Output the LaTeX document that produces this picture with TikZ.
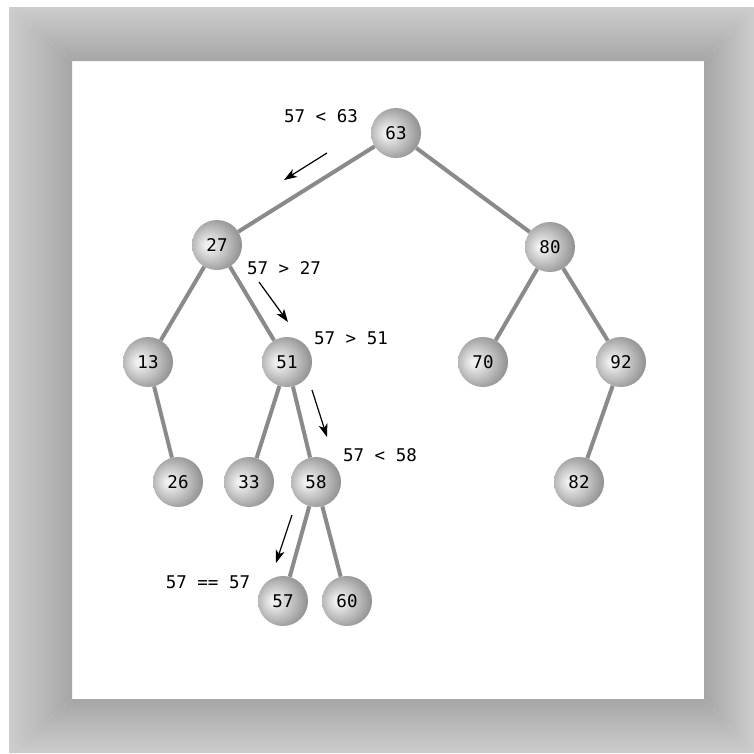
\documentclass[tikz,border=0pt]{standalone}
\usepackage{fontspec}
\setmonofont{DejaVu Sans Mono}
\usetikzlibrary{arrows.meta}

\definecolor{keylight}{HTML}{F0F0F0}
\definecolor{keymid}{HTML}{BEBEBE}
\definecolor{keydark}{HTML}{7A7A7A}
\definecolor{edgegray}{HTML}{8A8A8A}
\definecolor{frameout}{HTML}{CDCDCD}
\definecolor{framein}{HTML}{A6A6A6}
\pgfdeclareradialshading{keyball}{\pgfpoint{-10bp}{0bp}}{color(0bp)=(keylight); color(3bp)=(keylight); color(17bp)=(keymid); color(35bp)=(keydark); color(50bp)=(keydark)}

\begin{document}
\begin{tikzpicture}[x=1pt, y=-1pt]

        % 1. Page size and the bevelled grey frame
        \useasboundingbox (0,0) rectangle (754,753);
        \fill[white] (0,0) rectangle (754,753);

        \coordinate (OTL) at (9,7);    % outer corners
        \coordinate (OTR) at (754,7);
        \coordinate (OBR) at (754,753);
        \coordinate (OBL) at (9,753);
        \coordinate (ITL) at (72,61);  % inner corners
        \coordinate (ITR) at (704,61);
        \coordinate (IBR) at (704,699);
        \coordinate (IBL) at (72,699);

        \shade[top color=frameout, bottom color=framein] (OTL) -- (OTR) -- (ITR) -- (ITL) -- cycle;
        \shade[left color=frameout, right color=framein] (OTL) -- (ITL) -- (IBL) -- (OBL) -- cycle;
        \shade[left color=framein, right color=frameout] (OTR) -- (ITR) -- (IBR) -- (OBR) -- cycle;
        \shade[top color=framein, bottom color=frameout] (OBL) -- (IBL) -- (IBR) -- (OBR) -- cycle;

        % 2. Styles for keys, tree edges and the search notes
        \tikzset{
            key/.style={circle, minimum size=50pt, inner sep=0pt, shading=keyball,
                font=\ttfamily\fontsize{17.5}{19}\selectfont},
            treeedge/.style={line width=4pt, edgegray},
            note/.style={font=\ttfamily\fontsize{17.5}{19}\selectfont, inner sep=0pt},
            searchstep/.style={line width=1.2pt, black, -{Stealth[length=13pt, width=9pt, inset=3.5pt]}}
        }

        % 3. The keys of the tree
        \node[key] (n63) at (396,133) {63};
        \node[key] (n27) at (217,245) {27};
        \node[key] (n80) at (550,247) {80};
        \node[key] (n13) at (148,362) {13};
        \node[key] (n51) at (287,362) {51};
        \node[key] (n70) at (483,362) {70};
        \node[key] (n92) at (621,362) {92};
        \node[key] (n26) at (178,482) {26};
        \node[key] (n33) at (249,482) {33};
        \node[key] (n58) at (316,482) {58};
        \node[key] (n82) at (579,482) {82};
        \node[key] (n57) at (283,601) {57};
        \node[key] (n60) at (347,601) {60};

        % 4. Edges between parent and child
        \draw[treeedge] (n63) -- (n27);
        \draw[treeedge] (n63) -- (n80);
        \draw[treeedge] (n27) -- (n13);
        \draw[treeedge] (n27) -- (n51);
        \draw[treeedge] (n13) -- (n26);
        \draw[treeedge] (n51) -- (n33);
        \draw[treeedge] (n51) -- (n58);
        \draw[treeedge] (n58) -- (n57);
        \draw[treeedge] (n58) -- (n60);
        \draw[treeedge] (n80) -- (n70);
        \draw[treeedge] (n80) -- (n92);
        \draw[treeedge] (n92) -- (n82);

        % 5. Comparisons made while searching for 57
        \node[note] (cmp63) at (321,116) {57 < 63};
        \node[note] (cmp27) at (284,268) {57 > 27};
        \node[note] (cmp51) at (351,338) {57 > 51};
        \node[note] (cmp58) at (380,455) {57 < 58};
        \node[note] (cmp57) at (208,582) {57 == 57};

        \coordinate (s1a) at (327,153); \coordinate (s1b) at (284,180);
        \coordinate (s2a) at (259,282); \coordinate (s2b) at (288,322);
        \coordinate (s3a) at (312,390); \coordinate (s3b) at (327,437);
        \coordinate (s4a) at (292,515); \coordinate (s4b) at (276,563);

        \draw[searchstep] (s1a) -- (s1b);
        \draw[searchstep] (s2a) -- (s2b);
        \draw[searchstep] (s3a) -- (s3b);
        \draw[searchstep] (s4a) -- (s4b);

    \end{tikzpicture}
\end{document}
